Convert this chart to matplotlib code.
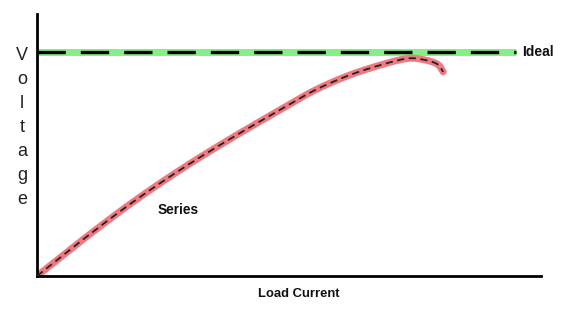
import matplotlib
matplotlib.use("Agg")
import matplotlib.pyplot as plt
import numpy as np

plt.rcParams['font.family'] = ['Liberation Sans', 'DejaVu Sans']

# Data (arbitrary units)
series_x = [0, 8.5, 18.5, 28.4, 38.3, 48.2, 54.8, 61.5, 68.1, 73.4, 76.6, 79.4, 80.6]
series_y = [0, 13.0, 27.5, 40.5, 52.3, 63.4, 70.6, 76.3, 80.5, 83.0, 82.6, 80.9, 77.9]
ideal_x = [0, 95]
ideal_y = [85.5, 85.5]
ylabel_letters = list("Voltage")
xlabel = "Load Current"

W, H = 567, 309
fig = plt.figure(figsize=(W / 100, H / 100), dpi=100)
ax = fig.add_axes([37 / W, (H - 276) / H, (541 - 37) / W, (276 - 14) / H])
ax.set_xlim(0, 100)
ax.set_ylim(0, 100)


def catmull(p, n=30):
    pts = []
    P = np.vstack([2 * p[0] - p[1], p, 2 * p[-1] - p[-2]])
    for i in range(1, len(P) - 2):
        p0, p1, p2, p3 = P[i - 1], P[i], P[i + 1], P[i + 2]
        for s in np.linspace(0, 1, n, endpoint=False):
            pts.append(0.5 * ((2 * p1) + (-p0 + p2) * s
                              + (2 * p0 - 5 * p1 + 4 * p2 - p3) * s ** 2
                              + (-p0 + 3 * p1 - 3 * p2 + p3) * s ** 3))
    pts.append(P[-2])
    return np.array(pts)


cr = catmull(np.column_stack([np.array(series_x, float), np.array(series_y, float)]))

# Ideal line
ax.plot(ideal_x, ideal_y, color='#86ee86', lw=5, solid_capstyle='butt', zorder=2)
ax.plot(ideal_x, ideal_y, color='black', lw=2.4, dashes=(8.5, 4.5), dash_capstyle='butt', zorder=3)

# Series line
ax.plot(cr[:, 0], cr[:, 1], color='#f07880', lw=5, solid_capstyle='round', zorder=2)
ax.plot(cr[:, 0], cr[:, 1], color='#222222', lw=1.3, dashes=(4, 2.5), zorder=3)

for s in ['top', 'right']:
    ax.spines[s].set_visible(False)
for s in ['left', 'bottom']:
    ax.spines[s].set_linewidth(2)
    ax.spines[s].set_color('black')
ax.set_xticks([]); ax.set_yticks([])

ax.text(96.3, 85.5, "Ideal", fontsize=10, fontweight='bold', va='center', ha='left', color='#111111')
ax.text(24, 25, "Series", fontsize=9.8, fontweight='bold', va='center', ha='left', color='#111111')

fig.text(299 / W, 1 - 294 / H, xlabel, fontsize=9.4, fontweight='bold', ha='center', va='center', color='#111111')

ys = [55, 80, 104, 128, 152, 176, 199]
for ch, yy in zip(ylabel_letters, ys):
    fig.text(22 / W, 1 - yy / H, ch, fontsize=13, ha='center', va='center', color='#222222')

fig.savefig("out.png", dpi=100)
